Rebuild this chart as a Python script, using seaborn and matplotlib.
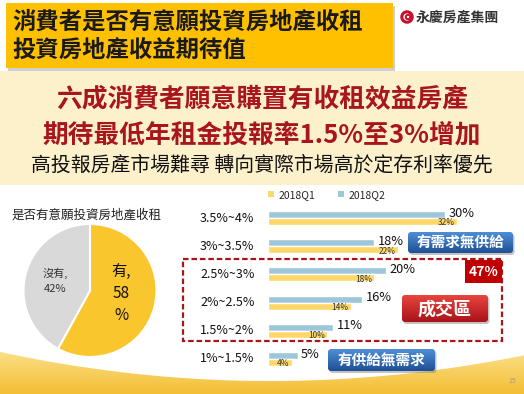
import numpy as np
import pandas as pd
import matplotlib
matplotlib.use("Agg")
import matplotlib.pyplot as plt
import seaborn as sns
from matplotlib.patches import Rectangle, FancyBboxPatch, Circle, Polygon, Patch
from matplotlib.colors import LinearSegmentedColormap

# chart data
categories = ["3.5%~4%", "3%~3.5%", "2.5%~3%", "2%~2.5%", "1.5%~2%", "1%~1.5%"]
q1_share = [32, 22, 18, 14, 10, 4]
q2_share = [30, 18, 20, 16, 11, 5]
pie_labels = ["有", "沒有"]
pie_values = [58, 42]

title_lines = ["消費者是否有意願投資房地產收租", "投資房地產收益期待值"]
headline = ["六成消費者願意購置有收租效益房產", "期待最低年租金投報率1.5%至3%增加"]
subline = "高投報房產市場難尋 轉向實際市場高於定存利率優先"

YELLOW_BAR = "#FDD868"
BLUE_BAR = "#9DC6D9"
DARK_RED = "#A8151A"

sns.set_theme(style="white")
plt.rcParams["font.family"] = ["Noto Sans CJK TC", "DejaVu Sans"]

W, H = 524, 394
fig = plt.figure(figsize=(W / 100, H / 100), dpi=100)
fig.patch.set_facecolor("white")


def px_rect(x0, y0, x1, y1):
    return [x0 / W, 1 - y1 / H, (x1 - x0) / W, (y1 - y0) / H]


# background / slide decoration layer in pixel units
bg = fig.add_axes([0, 0, 1, 1], zorder=0)
bg.set_xlim(0, W)
bg.set_ylim(H, 0)
bg.axis("off")


def gradient_fill(patch, x0, y0, x1, y1, top, bottom, z):
    bg.add_patch(patch)
    cmap = LinearSegmentedColormap.from_list("g", [top, bottom])
    grad = np.linspace(0, 1, 64).reshape(-1, 1)
    im = bg.imshow(grad, extent=(x0, x1, y1, y0), cmap=cmap, aspect="auto",
                   origin="upper", zorder=z)
    im.set_clip_path(patch)


def button(x0, y0, x1, y1, top, bottom, text, size):
    shadow = FancyBboxPatch((x0 + 1.5, y0 + 2), x1 - x0, y1 - y0,
                            boxstyle="round,pad=0,rounding_size=3",
                            fc="#888888", ec="none", alpha=0.5, zorder=3)
    bg.add_patch(shadow)
    p = FancyBboxPatch((x0, y0), x1 - x0, y1 - y0,
                       boxstyle="round,pad=0,rounding_size=3",
                       fc="none", ec="none", zorder=4)
    gradient_fill(p, x0, y0, x1, y1, top, bottom, 4)
    bg.text((x0 + x1) / 2, (y0 + y1) / 2 + 0.5, text, color="white", fontsize=size,
            fontweight="bold", ha="center", va="center", zorder=5)


# cream band
bg.add_patch(Rectangle((0, 71), W, 114, fc="#FDF1CC", ec="none", zorder=1))

# bottom swoosh
xs = np.linspace(0, W, 200)
top_edge = 381 - 28 * ((xs - 270) / 265) ** 2
poly = Polygon(np.vstack([np.column_stack([xs, top_edge]), [[W, H], [0, H]]]),
               closed=True, fc="none", ec="none", zorder=1)
gradient_fill(poly, 0, 350, W, H, "#FBE08A", "#F4BE35", 1)

# title box
bg.add_patch(Rectangle((8, 6), 387, 65, fc="#CFCFCF", ec="none", zorder=1))
bg.add_patch(Rectangle((6, 3), 387, 65, fc="#FFC000", ec="none", zorder=2))
bg.text(12, 22, title_lines[0], fontsize=16.8, fontweight="bold", color="#1A1A1A",
        ha="left", va="center", zorder=3)
bg.text(12, 50, title_lines[1], fontsize=16.8, fontweight="bold", color="#1A1A1A",
        ha="left", va="center", zorder=3)

# logo
bg.add_patch(Circle((407, 17), 5.2, fill=False, lw=2.2, ec="#C8102E", zorder=3))
bg.add_patch(Circle((408, 17), 2.2, fill=False, lw=1.4, ec="#C8102E", zorder=3))
bg.text(416, 17, "永慶房產集團", fontsize=10, fontweight="bold", color="#333333",
        ha="left", va="center", zorder=3)

# headline
bg.text(262, 100, headline[0], fontsize=18.5, fontweight="bold", color=DARK_RED,
        ha="center", va="center", zorder=3)
bg.text(262, 135, headline[1], fontsize=18.5, fontweight="bold", color=DARK_RED,
        ha="center", va="center", zorder=3)
bg.text(262, 165, subline, fontsize=14.3, color="#111111",
        ha="center", va="center", zorder=3)

# pie title
bg.text(12, 215, "是否有意願投資房地產收租", fontsize=9, color="#222222",
        ha="left", va="center", zorder=3)

# highlight zone
bg.add_patch(Rectangle((183, 259), 319, 82, fill=False, ec=DARK_RED, lw=1.6,
                       ls=(0, (2.5, 1.3)), zorder=3))
bg.add_patch(Rectangle((465, 260), 37, 23, fc="#C00000", ec="none", zorder=4))
bg.text(483.5, 271.5, f"{sum(q2_share[2:5])}%", color="white", fontsize=10,
        fontweight="bold", ha="center", va="center", zorder=5)

button(402, 295, 488, 322, "#E8453C", "#A8131A", "成交區", 13)
button(408, 232, 513, 253, "#4F8FD6", "#1F4F93", "有需求無供給", 10.5)
button(328, 349, 435, 371, "#4F8FD6", "#1F4F93", "有供給無需求", 10.5)

bg.text(512, 381, "15", fontsize=5, color="#999999", ha="center", va="center", zorder=3)

# pie chart
pax = fig.add_axes(px_rect(23, 224, 157, 357), zorder=2)
pax.pie(pie_values, colors=["#F9C62E", "#D9D9D9"], startangle=90, counterclock=False,
        wedgeprops=dict(edgecolor="white", linewidth=1.5))
pax.set_xlim(-1, 1)
pax.set_ylim(-1, 1)
pax.set_aspect("equal")
pax.axis("off")
pax.text(0.47, -0.045, f"{pie_labels[0]},\n{pie_values[0]}\n%", fontsize=11,
         color="#111111", ha="center", va="center", linespacing=1.35)
pax.text(-0.52, 0.14, f"{pie_labels[1]},\n{pie_values[1]}%", fontsize=8,
         color="#333333", ha="center", va="center", linespacing=1.6)

# bar chart
df = pd.DataFrame({
    "區間": categories * 2,
    "季度": ["2018Q2"] * len(categories) + ["2018Q1"] * len(categories),
    "比例": q2_share + q1_share,
})
ax = fig.add_axes(px_rect(268, 204, 524, 373), zorder=2)
sns.barplot(data=df, y="區間", x="比例", hue="季度", hue_order=["2018Q2", "2018Q1"],
            order=categories, palette={"2018Q1": YELLOW_BAR, "2018Q2": BLUE_BAR},
            orient="h", width=0.5, saturation=1, legend=False, ax=ax)
ax.set_xlim(0, 256 / 5.9)
ax.set_ylim(len(categories) - 0.5, -0.5)
ax.axis("off")

for i, lab in enumerate(categories):
    ax.text(-68 / 256, i, lab, transform=ax.get_yaxis_transform(), fontsize=9,
            color="#111111", ha="left", va="center")

for bar, v in zip(ax.containers[0], q2_share):
    ax.annotate(f"{v}%", (bar.get_width(), bar.get_y() + bar.get_height() / 2),
                xytext=(2.5, 1), textcoords="offset points", fontsize=9.2,
                color="#111111", ha="left", va="center")
for bar, v in zip(ax.containers[1], q1_share):
    ax.annotate(f"{v}%", (bar.get_width(), bar.get_y() + bar.get_height() / 2),
                xytext=(-1.5, -1), textcoords="offset points", fontsize=6,
                color="#333333", ha="right", va="center")

handles = [Patch(fc=YELLOW_BAR, ec="none"), Patch(fc=BLUE_BAR, ec="none")]
ax.legend(handles, ["2018Q1", "2018Q2"], loc="lower left", bbox_to_anchor=(0, 1.025),
          ncol=2, frameon=False, fontsize=7.5, handlelength=0.6, handleheight=0.6,
          handletextpad=0.4, columnspacing=2.2, borderpad=0, borderaxespad=0)

fig.savefig("out.png", dpi=100)
